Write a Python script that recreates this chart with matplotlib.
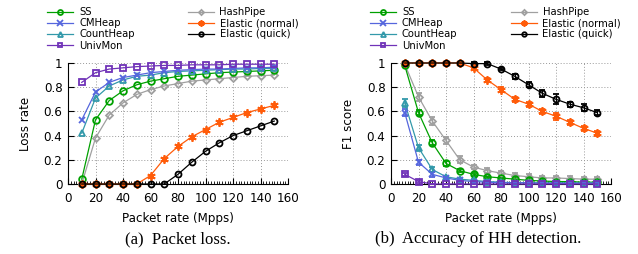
import numpy as np
import matplotlib
matplotlib.use("Agg")
import matplotlib.pyplot as plt
from matplotlib.ticker import MultipleLocator

rate = [10, 20, 30, 40, 50, 60, 70, 80, 90, 100, 110, 120, 130, 140, 150]
names = ["SS", "CMHeap", "CountHeap", "UnivMon", "HashPipe", "Elastic (normal)", "Elastic (quick)"]

# loss rate (a)
loss_ss = [0.04, 0.53, 0.69, 0.77, 0.82, 0.85, 0.87, 0.89, 0.90, 0.91, 0.92, 0.925, 0.93, 0.935, 0.94]
loss_cm = [0.53, 0.76, 0.84, 0.88, 0.90, 0.92, 0.93, 0.94, 0.945, 0.95, 0.95, 0.955, 0.96, 0.96, 0.965]
loss_ch = [0.42, 0.71, 0.81, 0.86, 0.89, 0.90, 0.92, 0.93, 0.935, 0.94, 0.945, 0.95, 0.95, 0.955, 0.955]
loss_um = [0.84, 0.92, 0.95, 0.96, 0.97, 0.975, 0.98, 0.98, 0.985, 0.985, 0.985, 0.99, 0.99, 0.99, 0.99]
loss_hp = [0.0, 0.38, 0.57, 0.67, 0.74, 0.78, 0.81, 0.83, 0.85, 0.86, 0.87, 0.88, 0.89, 0.895, 0.90]
loss_en = [0, 0, 0, 0, 0, 0.07, 0.21, 0.31, 0.39, 0.45, 0.51, 0.55, 0.59, 0.62, 0.65]
loss_eq = [0, 0, 0, 0, 0, 0, 0, 0.08, 0.18, 0.27, 0.34, 0.40, 0.44, 0.48, 0.52]

# F1 score (b)
f1_ss = [0.98, 0.59, 0.34, 0.17, 0.11, 0.08, 0.06, 0.05, 0.04, 0.03, 0.025, 0.02, 0.02, 0.015, 0.015]
f1_cm = [0.59, 0.18, 0.08, 0.05, 0.03, 0.02, 0.015, 0.01, 0.01, 0.01, 0.005, 0.005, 0.005, 0.005, 0.005]
f1_ch = [0.67, 0.30, 0.12, 0.06, 0.04, 0.03, 0.02, 0.015, 0.01, 0.01, 0.01, 0.01, 0.01, 0.01, 0.01]
f1_um = [0.08, 0.02, 0.0, 0, 0, 0, 0, 0, 0, 0, 0, 0, 0, 0, 0]
f1_hp = [0.99, 0.72, 0.52, 0.36, 0.20, 0.14, 0.11, 0.09, 0.07, 0.06, 0.05, 0.05, 0.045, 0.04, 0.04]
f1_en = [1, 1, 1, 1, 1, 0.96, 0.86, 0.78, 0.70, 0.66, 0.60, 0.56, 0.51, 0.46, 0.42]
f1_eq = [1, 1, 1, 1, 1, 0.995, 0.995, 0.95, 0.89, 0.82, 0.75, 0.70, 0.66, 0.63, 0.59]

err_ss = [0.01, 0.02, 0.02, 0.02, 0.01, 0.01, 0.01, 0.01, 0.01, 0.01, 0.01, 0.01, 0.01, 0.01, 0.01]
err_cm = [0.03, 0.02, 0.02, 0.01, 0.01, 0.01, 0.01, 0.01, 0.01, 0.01, 0.01, 0.01, 0.01, 0.01, 0.01]
err_ch = [0.03, 0.02, 0.02, 0.01, 0.01, 0.01, 0.01, 0.01, 0.01, 0.01, 0.01, 0.01, 0.01, 0.01, 0.01]
err_um = [0.01, 0.01, 0.0, 0, 0, 0, 0, 0, 0, 0, 0, 0, 0, 0, 0]
err_hp = [0.01, 0.03, 0.03, 0.03, 0.03, 0.02, 0.02, 0.02, 0.02, 0.02, 0.02, 0.02, 0.02, 0.02, 0.02]
err_en = [0, 0, 0, 0, 0, 0.01, 0.02, 0.02, 0.02, 0.02, 0.02, 0.03, 0.02, 0.02, 0.02]
err_eq = [0, 0, 0, 0, 0, 0.01, 0.01, 0.01, 0.02, 0.02, 0.03, 0.04, 0.02, 0.03, 0.02]

colors = ["#00a000", "#5566dd", "#3399aa", "#7033b8", "#a0a0a0", "#ff5c0a", "#000000"]
markers = ["o", "x", "^", "s", "D", (6, 2, 0), "o"]
msizes = [4.8, 5, 4.8, 4.8, 3.5, 6, 4.3]

loss = [loss_ss, loss_cm, loss_ch, loss_um, loss_hp, loss_en, loss_eq]
f1 = [f1_ss, f1_cm, f1_ch, f1_um, f1_hp, f1_en, f1_eq]
errs = [err_ss, err_cm, err_ch, err_um, err_hp, err_en, err_eq]
order = [4, 0, 2, 1, 3, 5, 6]

fig = plt.figure(figsize=(6.38, 2.54), dpi=100)
ax1 = fig.add_axes([68 / 638, 1 - 184 / 254, 220 / 638, 121 / 254])
ax2 = fig.add_axes([391 / 638, 1 - 184 / 254, 220 / 638, 121 / 254])


def style(ax, ylabel):
    ax.set_xlim(0, 160)
    ax.set_ylim(0, 1)
    ax.xaxis.set_major_locator(MultipleLocator(20))
    ax.xaxis.set_minor_locator(MultipleLocator(2))
    ax.set_yticks([0, 0.2, 0.4, 0.6, 0.8, 1])
    ax.set_yticklabels(["0", "0.2", "0.4", "0.6", "0.8", "1"])
    ax.tick_params(direction="in", labelsize=8.6, length=4, width=0.8, top=False, right=False)
    ax.tick_params(axis="x", pad=6)
    ax.tick_params(axis="y", pad=4)
    ax.tick_params(which="minor", direction="in", length=2, width=0.6)
    ax.grid(True, linestyle=(0, (1, 2)), color="#999999", linewidth=0.7)
    ax.spines["top"].set_visible(False)
    ax.spines["right"].set_visible(False)
    ax.set_axisbelow(True)
    ax.set_xlabel("Packet rate (Mpps)", fontsize=8.6, labelpad=5)
    ax.set_ylabel(ylabel, fontsize=8.6, labelpad=8)


handles = [None] * 7
for i in order:
    h, = ax1.plot(rate, loss[i], color=colors[i], marker=markers[i], ms=msizes[i],
                  mfc="none", mew=1.3, lw=0.9, clip_on=False, zorder=3)
    handles[i] = h
    ax2.errorbar(rate, f1[i], yerr=errs[i], color=colors[i], marker=markers[i], ms=msizes[i],
                 mfc="none", mew=1.3, lw=0.9, capsize=2.5, elinewidth=0.9, clip_on=False, zorder=3)

style(ax1, "Loss rate")
style(ax2, "F1 score")

for x0 in [47 / 638, 370 / 638]:
    fig.legend(handles, names, loc="upper left", bbox_to_anchor=(x0, 1 - 7 / 254), ncol=2,
               frameon=False, fontsize=7.2, handlelength=2.6, handletextpad=0.6,
               columnspacing=5.3, labelspacing=0.12, borderpad=0, borderaxespad=0,
               markerscale=0.75)

fig.text(178 / 638, 1 - 239 / 254, "(a)  Packet loss.", ha="center", va="center",
         fontsize=12, family="Liberation Serif")
fig.text(478 / 638, 1 - 239 / 254, "(b)  Accuracy of HH detection.", ha="center", va="center",
         fontsize=12, family="Liberation Serif")

fig.savefig("out.png", dpi=100)
